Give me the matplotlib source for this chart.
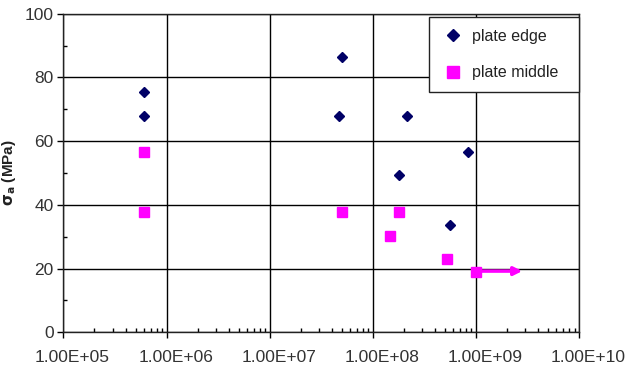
import matplotlib
matplotlib.use("Agg")
import matplotlib.pyplot as plt
from matplotlib.ticker import LogLocator, FuncFormatter, MultipleLocator
from matplotlib.legend_handler import HandlerLine2D
from matplotlib.transforms import ScaledTranslation
import numpy as np

plt.rcParams['font.family'] = ['Liberation Sans', 'DejaVu Sans']

edge_N = [6.0e5, 6.0e5, 5.0e7, 4.7e7, 2.15e8, 8.4e8, 1.77e8, 5.6e8]
edge_S = [75.5, 68, 86.5, 68, 68, 56.5, 49.4, 33.7]
mid_N = [6.0e5, 6.0e5, 5.0e7, 1.8e8, 1.46e8, 5.2e8, 1.0e9]
mid_S = [56.5, 37.8, 37.8, 37.8, 30.1, 22.9, 18.8]
runout_start = (1.0e9, 19.2)
runout_end = (2.8e9, 19.2)

x_ticks = [1e5, 1e6, 1e7, 1e8, 1e9, 1e10]
x_labels = ["1.00E+05", "1.00E+06", "1.00E+07", "1.00E+08", "1.00E+09", "1.00E+10"]
y_ticks = [0, 20, 40, 60, 80, 100]


class RightMarker(HandlerLine2D):
    def get_xdata(self, legend, xdescent, ydescent, width, height, fontsize):
        xdata = np.array([-xdescent, -xdescent + width])
        xm = np.array([-xdescent + width - 0.25 * fontsize])
        return xdata, xm


fig = plt.figure(figsize=(6.28, 3.70), dpi=100)
ax = fig.add_axes([0.101, 0.102, 0.8215, 0.861])

ax.set_xscale('log')
ax.set_xlim(1e5, 1e10)
ax.set_ylim(0, 100)

ax.set_xticks(x_ticks)
ax.set_xticklabels(x_labels)
ax.xaxis.set_minor_locator(LogLocator(base=10, subs=np.arange(2, 10)))
ax.xaxis.set_minor_formatter(FuncFormatter(lambda v, p: ""))
ax.set_yticks(y_ticks)
ax.yaxis.set_minor_locator(MultipleLocator(10))

ax.grid(True, which='major', color='black', linewidth=1.0)
ax.set_axisbelow(True)
for s in ax.spines.values():
    s.set_color('#222222')
    s.set_linewidth(1.0)

ax.tick_params(axis='both', which='major', direction='out', length=4, width=1,
               labelsize=12.5, colors='black', labelcolor='#333333', pad=3)
ax.tick_params(axis='x', which='major', pad=9)
ax.tick_params(axis='both', which='minor', direction='in', length=3, width=1)

offset = ScaledTranslation(9 / 100, 0, fig.dpi_scale_trans)
for lbl in ax.get_xticklabels():
    lbl.set_transform(lbl.get_transform() + offset)

ax.plot(edge_N, edge_S, linestyle='none', marker='D', markersize=5.6,
        color='#000066', label='plate edge', zorder=3)
ax.plot(mid_N, mid_S, linestyle='none', marker='s', markersize=7.9,
        color='#ff00ff', label='plate middle', zorder=3)

ax.annotate('', xy=runout_end, xytext=runout_start,
            arrowprops=dict(arrowstyle='-|>', color='#ff00ff', lw=2.5,
                            mutation_scale=12, shrinkA=0, shrinkB=0), zorder=4)

ax.set_ylabel(r'$\mathbf{\sigma_a}$ (MPa)', fontsize=11, fontweight='bold',
              labelpad=5, color='#222222')

leg = ax.legend(loc='upper left', bbox_to_anchor=(0.7086, 0.5, 0.2902, 0.4906),
                mode='expand', fontsize=11.5,
                frameon=True, fancybox=False, shadow=False, edgecolor='#222222',
                framealpha=1, handlelength=1.56, handletextpad=0.39,
                borderpad=0.74, labelspacing=1.375, borderaxespad=0,
                markerscale=1.1,
                handler_map={plt.Line2D: RightMarker()})
leg.get_frame().set_linewidth(1.0)
for t in leg.get_texts():
    t.set_color('#222222')

fig.savefig('out.png', dpi=100)
